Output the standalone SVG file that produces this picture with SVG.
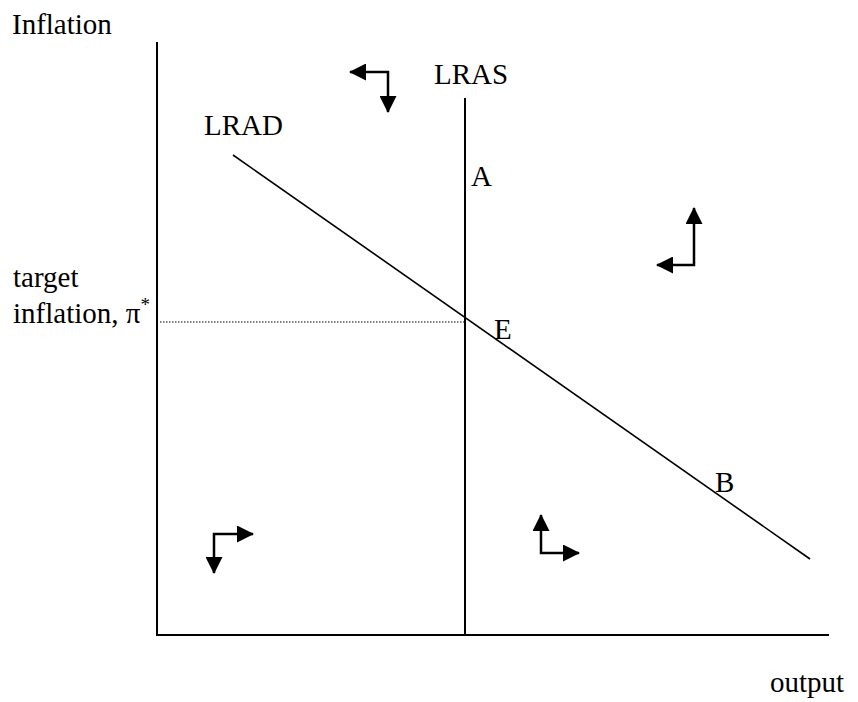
<svg xmlns="http://www.w3.org/2000/svg" width="858" height="702" viewBox="0 0 858 702">
<style>
text{font-family:"Liberation Serif","Times New Roman",serif;font-size:29px;fill:#000}
.ax{stroke:#000;stroke-width:2;fill:none}
.crv{stroke:#000;stroke-width:1.6;fill:none}
.dir{stroke:#000;stroke-width:2.5;fill:none;marker-start:url(#ah);marker-end:url(#ah)}
</style>
<defs>
<marker id="ah" markerUnits="userSpaceOnUse" markerWidth="17" markerHeight="17" viewBox="0 0 17 17" refX="16" refY="8.5" orient="auto-start-reverse">
<path d="M0,0 L17,8.5 L0,17 z" fill="#000"/>
</marker>
</defs>
<rect width="858" height="702" fill="#fff"/>
<g id="axes">
<line class="ax" x1="157" y1="42" x2="157" y2="636"/>
<line class="ax" x1="156" y1="635" x2="829" y2="635"/>
</g>
<g id="connectors">
<line id="lras" class="ax" x1="465" y1="98" x2="465" y2="635"/>
<line id="lrad" class="crv" x1="233" y1="155" x2="810" y2="559"/>
<line id="target-line" x1="160" y1="322" x2="465" y2="322" stroke="#000" stroke-width="1" stroke-dasharray="1.5,1.5"/>
<polyline id="arrow-top" class="dir" points="350,72 388,72 388,112"/>
<polyline id="arrow-right" class="dir" points="657,265 694,265 694,208"/>
<polyline id="arrow-bl" class="dir" points="214,573 214,534 253,534"/>
<polyline id="arrow-br" class="dir" points="541,515 541,553 579,553"/>
</g>
<g id="labels">
<text id="t-inflation" x="12" y="34">Inflation</text>
<text id="t-lras" x="434" y="84">LRAS</text>
<text id="t-lrad" x="204" y="135">LRAD</text>
<text id="t-a" x="471" y="186">A</text>
<text id="t-target" x="13" y="287">target</text>
<text id="t-pi" x="13" y="323">inflation, π<tspan dy="-12" font-size="19">*</tspan></text>
<text id="t-e" x="494" y="339">E</text>
<text id="t-b" x="715" y="492">B</text>
<text id="t-output" x="770" y="692">output</text>
</g>
</svg>
